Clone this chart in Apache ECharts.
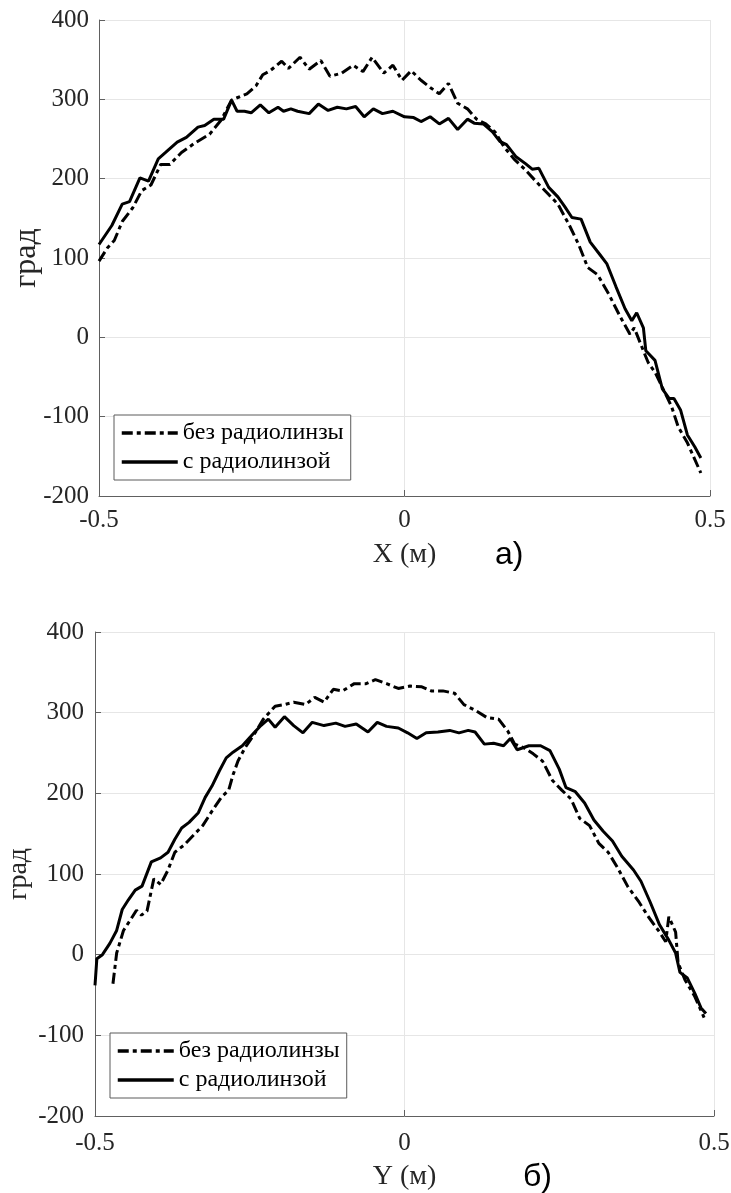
<!DOCTYPE html>
<html>
<head>
<meta charset="utf-8">
<script src="https://cdn.jsdelivr.net/npm/echarts@6/dist/echarts.min.js"></script>
<style>
  html, body { margin: 0; padding: 0; background: #fff; }
  #chart { width: 731px; height: 1193px; }
</style>
</head>
<body>
<div id="chart"></div>
<script>
// подписи серий
const seriesNames = ['без радиолинзы', 'с радиолинзой'];
const xTicks = [-0.5, 0, 0.5];
const yTicks = [-200, -100, 0, 100, 200, 300, 400];

// а) по оси X
const topNoLens = [[-0.5,96],[-0.486,113],[-0.475,122],[-0.462,146],[-0.445,163],[-0.43,185],[-0.415,192],[-0.399,218],[-0.384,218],[-0.365,233],[-0.343,245],[-0.319,256],[-0.3,274],[-0.283,299],[-0.274,302],[-0.258,307],[-0.243,317],[-0.232,331],[-0.22,336],[-0.201,348],[-0.19,339],[-0.171,353],[-0.156,338],[-0.137,349],[-0.122,329],[-0.103,333],[-0.084,343],[-0.068,335],[-0.053,353],[-0.034,333],[-0.019,343],[-0.004,324],[0.011,336],[0.027,324],[0.042,315],[0.057,307],[0.072,320],[0.087,295],[0.103,288],[0.118,275],[0.133,269],[0.148,259],[0.163,240],[0.179,225],[0.198,211],[0.217,195],[0.236,180],[0.251,168],[0.27,141],[0.285,117],[0.3,88],[0.316,79],[0.334,55],[0.353,26],[0.369,4],[0.376,12],[0.391,-17],[0.399,-32],[0.41,-44],[0.422,-63],[0.437,-87],[0.448,-113],[0.463,-133],[0.485,-171]];
const topLens = [[-0.5,117],[-0.479,141],[-0.462,168],[-0.45,171],[-0.433,201],[-0.419,197],[-0.403,225],[-0.391,233],[-0.372,246],[-0.357,252],[-0.338,265],[-0.327,267],[-0.312,275],[-0.296,275],[-0.283,299],[-0.274,285],[-0.262,285],[-0.251,283],[-0.236,293],[-0.222,283],[-0.207,290],[-0.198,285],[-0.186,288],[-0.175,285],[-0.156,282],[-0.141,294],[-0.125,286],[-0.11,290],[-0.095,288],[-0.08,291],[-0.066,278],[-0.051,288],[-0.036,282],[-0.019,285],[0,278],[0.015,277],[0.027,272],[0.042,278],[0.057,269],[0.072,276],[0.087,262],[0.103,275],[0.114,270],[0.129,269],[0.144,259],[0.156,247],[0.167,243],[0.182,228],[0.198,219],[0.209,212],[0.22,213],[0.236,189],[0.251,177],[0.262,165],[0.274,151],[0.289,149],[0.304,120],[0.319,105],[0.331,93],[0.346,64],[0.361,36],[0.372,21],[0.38,31],[0.391,12],[0.395,-17],[0.41,-29],[0.422,-65],[0.433,-77],[0.441,-77],[0.452,-92],[0.463,-123],[0.475,-138],[0.485,-152]];

// б) по оси Y
const botNoLens = [[-0.471,-36],[-0.465,2],[-0.454,30],[-0.442,44],[-0.433,55],[-0.425,49],[-0.416,54],[-0.405,94],[-0.394,87],[-0.382,105],[-0.371,127],[-0.356,136],[-0.341,148],[-0.326,160],[-0.311,178],[-0.296,195],[-0.284,204],[-0.277,223],[-0.269,240],[-0.258,256],[-0.243,273],[-0.228,292],[-0.209,308],[-0.194,310],[-0.179,313],[-0.16,310],[-0.145,319],[-0.13,313],[-0.115,329],[-0.1,327],[-0.081,336],[-0.062,336],[-0.047,341],[-0.029,336],[-0.01,330],[0.009,333],[0.028,332],[0.043,327],[0.062,327],[0.081,324],[0.096,310],[0.114,303],[0.133,294],[0.152,292],[0.167,277],[0.178,261],[0.194,256],[0.208,249],[0.223,240],[0.239,216],[0.254,204],[0.269,193],[0.283,169],[0.299,160],[0.314,138],[0.329,127],[0.344,108],[0.361,84],[0.379,65],[0.394,47],[0.412,28],[0.422,16],[0.427,47],[0.438,28],[0.442,-10],[0.453,-31],[0.469,-52],[0.484,-78]];
const botLens = [[-0.5,-38],[-0.497,-5],[-0.488,0],[-0.476,14],[-0.465,30],[-0.456,56],[-0.446,68],[-0.435,80],[-0.424,85],[-0.409,115],[-0.394,120],[-0.382,127],[-0.371,143],[-0.36,157],[-0.348,164],[-0.333,176],[-0.322,195],[-0.311,209],[-0.299,228],[-0.288,244],[-0.277,251],[-0.262,259],[-0.243,275],[-0.232,284],[-0.22,292],[-0.209,282],[-0.194,295],[-0.179,284],[-0.164,275],[-0.149,288],[-0.13,284],[-0.111,287],[-0.096,283],[-0.078,286],[-0.059,276],[-0.044,288],[-0.029,283],[-0.01,281],[0.005,275],[0.02,268],[0.035,275],[0.054,276],[0.073,278],[0.088,275],[0.103,278],[0.114,276],[0.129,261],[0.144,262],[0.16,259],[0.171,268],[0.182,254],[0.201,259],[0.22,259],[0.235,253],[0.25,230],[0.261,207],[0.276,202],[0.291,188],[0.306,167],[0.321,153],[0.336,141],[0.351,122],[0.37,105],[0.382,91],[0.397,65],[0.412,37],[0.427,18],[0.438,2],[0.445,-22],[0.457,-29],[0.469,-48],[0.479,-66],[0.487,-73]];

const serif = '"Liberation Serif", "DejaVu Serif", serif';

function xAx(idx, name, gap, margin) {
  return {
    gridIndex: idx, type: 'value', min: -0.5, max: 0.5, interval: 0.5,
    name: name, nameLocation: 'middle', nameGap: gap, nameMoveOverlap: false,
    nameTextStyle: { fontFamily: serif, fontSize: 28, color: '#262626' },
    axisLine: { onZero: false, lineStyle: { color: '#606060', width: 1 } },
    axisTick: { inside: true, length: 6, lineStyle: { color: '#606060' } },
    axisLabel: { fontFamily: serif, fontSize: 25, color: '#262626', margin: margin },
    splitLine: { show: true, lineStyle: { color: '#e6e6e6', width: 1 } }
  };
}
function yAx(idx, margin, gap, nameSize) {
  return {
    gridIndex: idx, type: 'value', min: -200, max: 400, interval: 100,
    name: 'град', nameLocation: 'middle', nameGap: gap, nameMoveOverlap: false,
    nameTextStyle: { fontFamily: serif, fontSize: nameSize, color: '#262626' },
    axisLine: { show: true, onZero: false, lineStyle: { color: '#606060', width: 1 } },
    axisTick: { inside: true, length: 6, lineStyle: { color: '#606060' } },
    axisLabel: { fontFamily: serif, fontSize: 25, color: '#262626', margin: margin },
    splitLine: { show: true, lineStyle: { color: '#e6e6e6', width: 1 } }
  };
}
function line(name, idx, data, dashed) {
  return {
    name: name, type: 'line', xAxisIndex: idx, yAxisIndex: idx,
    data: data, symbol: 'none', animation: false,
    lineStyle: { color: '#000', width: 3, type: dashed ? [11, 4, 4, 4] : 'solid' },
    itemStyle: { color: '#000' }
  };
}
function legend(left, top) {
  return {
    orient: 'vertical', left: left, top: top,
    data: seriesNames,
    itemWidth: 56, itemHeight: 4, itemGap: 3,
    padding: [5, 7, 5, 6],
    borderColor: '#5a5a5a', borderWidth: 1, backgroundColor: '#fff',
    selectedMode: false,
    itemStyle: { opacity: 0 },
    lineStyle: { width: 3.5 },
    textStyle: { fontFamily: serif, fontSize: 24, color: '#000', lineHeight: 26 }
  };
}

const chart = echarts.init(document.getElementById('chart'));
chart.setOption({
  animation: false,
  grid: [
    { left: 99, right: 21, top: 20, height: 476, containLabel: false, outerBoundsMode: 'none' },
    { left: 95, right: 17, top: 632, height: 484, containLabel: false, outerBoundsMode: 'none' }
  ],
  xAxis: [xAx(0, 'X (м)', 45, 12), xAx(1, 'Y (м)', 47, 15)],
  yAxis: [yAx(0, 10, 56, 32), yAx(1, 11, 62, 28)],
  legend: [legend(114, 415), legend(110, 1033)],
  graphic: [
    { type: 'text', left: 495, top: 539, style: { text: 'а)', font: '32px "Liberation Sans", Arial, sans-serif', fill: '#000' } },
    { type: 'text', left: 523, top: 1161, style: { text: 'б)', font: '32px "Liberation Sans", Arial, sans-serif', fill: '#000' } }
  ],
  series: [
    line(seriesNames[0], 0, topNoLens, true),
    line(seriesNames[1], 0, topLens, false),
    line(seriesNames[0], 1, botNoLens, true),
    line(seriesNames[1], 1, botLens, false)
  ]
});
</script>
</body>
</html>
